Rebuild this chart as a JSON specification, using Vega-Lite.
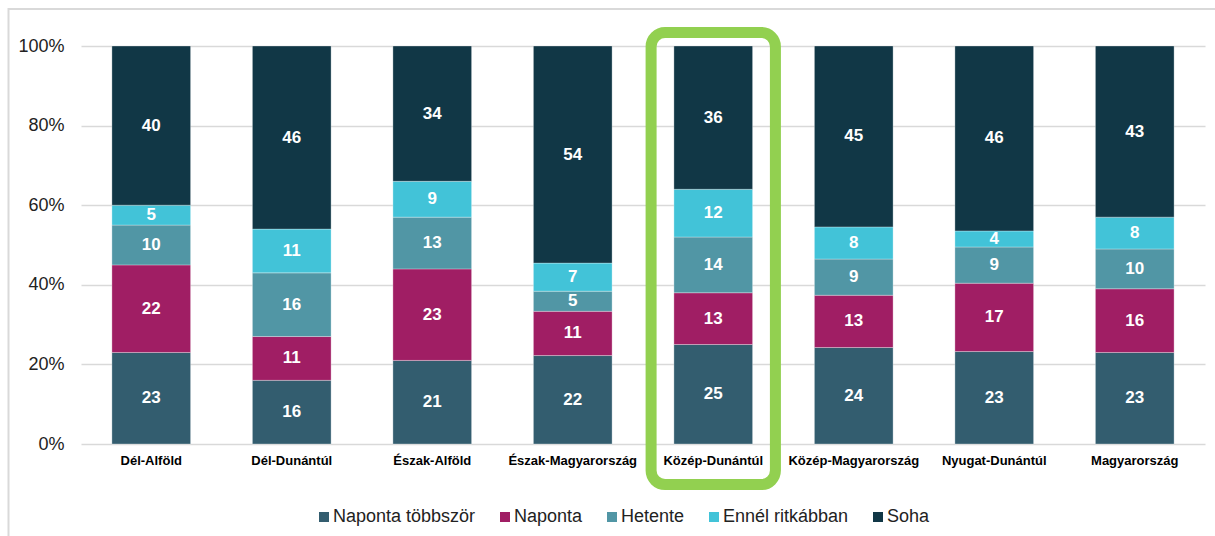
{
  "$schema": "https://vega.github.io/schema/vega-lite/v6.json",
  "width": 1124,
  "height": 398,
  "autosize": {"type": "none"},
  "padding": {"left": 81, "top": 46, "right": 10, "bottom": 92},
  "background": "#ffffff",
  "config": {"font": "Liberation Sans", "view": {"stroke": null}},
  "datasets": {
    "survey": [
      {"region": "Dél-Alföld", "cat": "Naponta többször", "o": 1, "value": 23},
      {"region": "Dél-Alföld", "cat": "Naponta", "o": 2, "value": 22},
      {"region": "Dél-Alföld", "cat": "Hetente", "o": 3, "value": 10},
      {"region": "Dél-Alföld", "cat": "Ennél ritkábban", "o": 4, "value": 5},
      {"region": "Dél-Alföld", "cat": "Soha", "o": 5, "value": 40},
      {"region": "Dél-Dunántúl", "cat": "Naponta többször", "o": 1, "value": 16},
      {"region": "Dél-Dunántúl", "cat": "Naponta", "o": 2, "value": 11},
      {"region": "Dél-Dunántúl", "cat": "Hetente", "o": 3, "value": 16},
      {"region": "Dél-Dunántúl", "cat": "Ennél ritkábban", "o": 4, "value": 11},
      {"region": "Dél-Dunántúl", "cat": "Soha", "o": 5, "value": 46},
      {"region": "Észak-Alföld", "cat": "Naponta többször", "o": 1, "value": 21},
      {"region": "Észak-Alföld", "cat": "Naponta", "o": 2, "value": 23},
      {"region": "Észak-Alföld", "cat": "Hetente", "o": 3, "value": 13},
      {"region": "Észak-Alföld", "cat": "Ennél ritkábban", "o": 4, "value": 9},
      {"region": "Észak-Alföld", "cat": "Soha", "o": 5, "value": 34},
      {"region": "Észak-Magyarország", "cat": "Naponta többször", "o": 1, "value": 22},
      {"region": "Észak-Magyarország", "cat": "Naponta", "o": 2, "value": 11},
      {"region": "Észak-Magyarország", "cat": "Hetente", "o": 3, "value": 5},
      {"region": "Észak-Magyarország", "cat": "Ennél ritkábban", "o": 4, "value": 7},
      {"region": "Észak-Magyarország", "cat": "Soha", "o": 5, "value": 54},
      {"region": "Közép-Dunántúl", "cat": "Naponta többször", "o": 1, "value": 25},
      {"region": "Közép-Dunántúl", "cat": "Naponta", "o": 2, "value": 13},
      {"region": "Közép-Dunántúl", "cat": "Hetente", "o": 3, "value": 14},
      {"region": "Közép-Dunántúl", "cat": "Ennél ritkábban", "o": 4, "value": 12},
      {"region": "Közép-Dunántúl", "cat": "Soha", "o": 5, "value": 36},
      {"region": "Közép-Magyarország", "cat": "Naponta többször", "o": 1, "value": 24},
      {"region": "Közép-Magyarország", "cat": "Naponta", "o": 2, "value": 13},
      {"region": "Közép-Magyarország", "cat": "Hetente", "o": 3, "value": 9},
      {"region": "Közép-Magyarország", "cat": "Ennél ritkábban", "o": 4, "value": 8},
      {"region": "Közép-Magyarország", "cat": "Soha", "o": 5, "value": 45},
      {"region": "Nyugat-Dunántúl", "cat": "Naponta többször", "o": 1, "value": 23},
      {"region": "Nyugat-Dunántúl", "cat": "Naponta", "o": 2, "value": 17},
      {"region": "Nyugat-Dunántúl", "cat": "Hetente", "o": 3, "value": 9},
      {"region": "Nyugat-Dunántúl", "cat": "Ennél ritkábban", "o": 4, "value": 4},
      {"region": "Nyugat-Dunántúl", "cat": "Soha", "o": 5, "value": 46},
      {"region": "Magyarország", "cat": "Naponta többször", "o": 1, "value": 23},
      {"region": "Magyarország", "cat": "Naponta", "o": 2, "value": 16},
      {"region": "Magyarország", "cat": "Hetente", "o": 3, "value": 10},
      {"region": "Magyarország", "cat": "Ennél ritkábban", "o": 4, "value": 8},
      {"region": "Magyarország", "cat": "Soha", "o": 5, "value": 43}
    ]
  },
  "layer": [
    {
      "data": {"values": [{"fx0": -0.0645, "fx1": 1.02, "fy0": 1.093, "fy1": -0.4}]},
      "mark": {"type": "rect", "fill": null, "stroke": "#d9d9d9", "strokeWidth": 2},
      "encoding": {
        "x": {"field": "fx0", "type": "quantitative", "scale": {"domain": [0, 1], "nice": false, "zero": false}, "axis": null},
        "x2": {"field": "fx1"},
        "y": {"field": "fy0", "type": "quantitative", "scale": {"domain": [0, 1], "nice": false}},
        "y2": {"field": "fy1"}
      }
    },
    {
      "layer": [
        {
          "data": {"name": "survey"},
          "mark": {"type": "bar", "stroke": "#ffffff", "strokeWidth": 0.5, "strokeOpacity": 0.6},
          "encoding": {
            "x": {
              "field": "region", "type": "nominal",
              "sort": ["Dél-Alföld", "Dél-Dunántúl", "Észak-Alföld", "Észak-Magyarország", "Közép-Dunántúl", "Közép-Magyarország", "Nyugat-Dunántúl", "Magyarország"],
              "scale": {"paddingInner": 0.44, "paddingOuter": 0.22},
              "axis": {"title": null, "labelAngle": 0, "labelFontWeight": "bold", "labelFontSize": 13, "labelColor": "#000000", "domain": false, "ticks": false, "labelPadding": 10}
            },
            "y": {
              "field": "value", "type": "quantitative", "stack": "normalize",
              "scale": {"domain": [0, 1], "nice": false},
              "axis": {"title": null, "format": ".0%", "values": [0, 0.2, 0.4, 0.6, 0.8, 1], "grid": true, "gridColor": "#d9d9d9", "gridWidth": 1.5, "domain": false, "ticks": false, "labelPadding": 17, "labelFontSize": 18, "labelColor": "#222222"}
            },
            "color": {
              "field": "cat", "type": "nominal",
              "scale": {
                "domain": ["Naponta többször", "Naponta", "Hetente", "Ennél ritkábban", "Soha"],
                "range": ["#335d6f", "#a01e64", "#5196a5", "#42c3d8", "#113746"]
              },
              "legend": {"orient": "none", "legendX": 234, "legendY": 462, "direction": "horizontal", "title": null, "symbolType": "square", "symbolSize": 100, "symbolStrokeWidth": 0, "labelFontSize": 18, "labelColor": "#222222", "columnPadding": 20, "labelOffset": 0, "padding": 0}
            },
            "order": {"field": "o", "type": "quantitative"}
          }
        },
        {
          "data": {"name": "survey"},
          "transform": [
            {"stack": "value", "groupby": ["region"], "sort": [{"field": "o", "order": "ascending"}], "offset": "normalize", "as": ["y0", "y1"]},
            {"calculate": "(datum.y0 + datum.y1) / 2", "as": "mid"}
          ],
          "mark": {"type": "text", "color": "#ffffff", "fontWeight": "bold", "fontSize": 17, "baseline": "middle", "align": "center"},
          "encoding": {
            "x": {"field": "region", "type": "nominal", "sort": ["Dél-Alföld", "Dél-Dunántúl", "Észak-Alföld", "Észak-Magyarország", "Közép-Dunántúl", "Közép-Magyarország", "Nyugat-Dunántúl", "Magyarország"]},
            "y": {"field": "mid", "type": "quantitative", "scale": {"domain": [0, 1], "nice": false}},
            "text": {"field": "value", "type": "quantitative"}
          }
        },
        {
          "data": {"values": [{"region": "Közép-Dunántúl", "top": 1.034, "bottom": -0.102}]},
          "mark": {"type": "bar", "fill": null, "stroke": "#92d050", "strokeWidth": 11, "cornerRadius": 14, "width": {"band": 1.58}},
          "encoding": {
            "x": {"field": "region", "type": "nominal", "sort": ["Dél-Alföld", "Dél-Dunántúl", "Észak-Alföld", "Észak-Magyarország", "Közép-Dunántúl", "Közép-Magyarország", "Nyugat-Dunántúl", "Magyarország"]},
            "y": {"field": "top", "type": "quantitative", "scale": {"domain": [0, 1], "nice": false}},
            "y2": {"field": "bottom"}
          }
        }
      ]
    }
  ],
  "resolve": {"scale": {"x": "independent"}}
}
